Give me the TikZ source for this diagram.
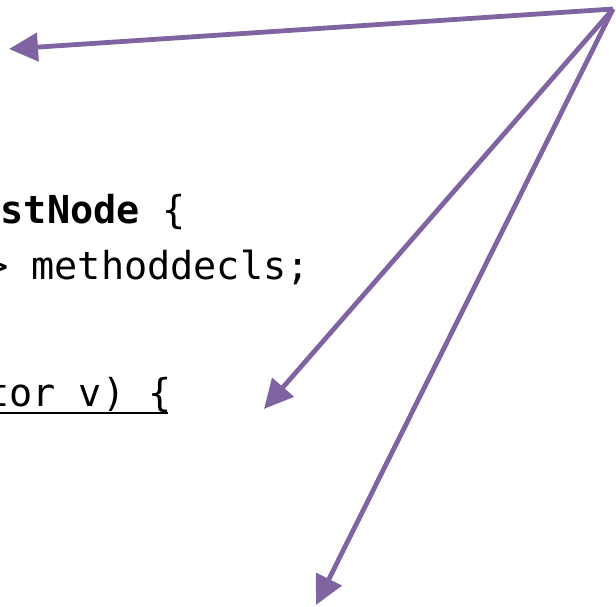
\documentclass[tikz,border=0pt]{standalone}
\usepackage{fontspec}
\setmonofont{DejaVu Sans Mono}
\usetikzlibrary{arrows.meta}
\definecolor{arrowpurple}{RGB}{128,100,162}
\tikzset{
  code/.style={anchor=base west, inner sep=0pt, font=\ttfamily\fontsize{38.5}{40}\selectfont, text=black},
  pointer/.style={draw=arrowpurple, line width=4.8pt, -{Triangle[length=29pt,width=28pt]}, fill=arrowpurple},
}
\begin{document}
\begin{tikzpicture}[x=1pt,y=-1pt]
\useasboundingbox (0,0) rectangle (616,606);
\node[code] (l1) at (0.5,223) {\textbf{stNode} \{};
\node[code] (l2) at (-15,279) {> methoddecls;};
\node[code] (l3) at (-14,406.5) {tor v) \{};
\draw[line width=2.8pt] (0,413) -- (168,413);
\coordinate (src) at (613,9);
\coordinate (t1) at (9,49);
\coordinate (t2) at (264,409);
\coordinate (t3) at (316,605);
\draw[pointer] (src) -- (t1);
\draw[pointer] (src) -- (t2);
\draw[pointer] (src) -- (t3);
\end{tikzpicture}
\end{document}
